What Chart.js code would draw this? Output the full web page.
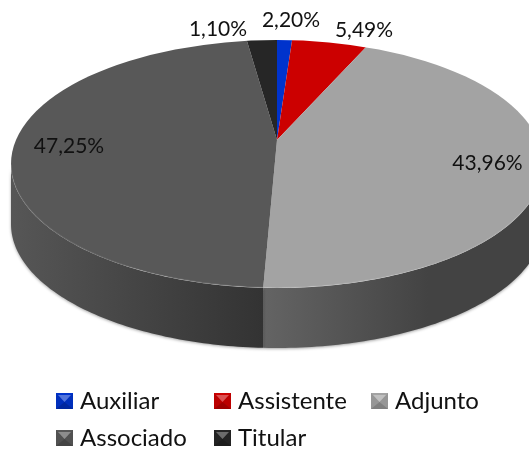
<!DOCTYPE html>
<html><head><meta charset="utf-8">
<style>html,body{margin:0;padding:0;background:#fff}canvas{display:block}</style>
<script src="https://cdn.jsdelivr.net/npm/chart.js@4"></script></head>
<body><canvas id="c" width="529" height="450"></canvas>
<script>
const categories = ["Auxiliar","Assistente","Adjunto","Associado","Titular"];
// Slice sizes as drawn in the picture (blue wedge is the smaller, dark wedge the larger)
const values = [1.10,5.49,43.96,47.25,2.20];
// Text printed beside each slice in the picture
const printedLabels = ["2,20%","5,49%","43,96%","47,25%","1,10%"];
const colors = ["#0033cc","#cc0000","#a3a3a3","#585858","#262626"];

const FONT = '21px Lato, sans-serif';
const top3d = {cx:277, cy:164, rx:266, ry:124, depth:60};
const stretch = {upper:[2.18*1.5,1.5], lower:[2.7*1.5,1.5]};
const labelAt = [[291,20],[364,30],[487.5,163],[69,146],[218,29]];
const legendAt = [[56,393],[214,393],[371,393],[56,430],[214,430]];

// where the slice edge at canvas angle a meets the rim of the top face, as an ellipse parameter
function rimParam(el,a){
  const s=Math.sin(a)>=0?stretch.lower:stretch.upper;
  const dx=s[0]*Math.cos(a), dy=s[1]*Math.sin(a);
  const px=(el.x-top3d.cx)/top3d.rx, py=(el.y-top3d.cy)/top3d.ry, qx=dx/top3d.rx, qy=dy/top3d.ry;
  const A=qx*qx+qy*qy, B=2*(px*qx+py*qy), C=px*px+py*py-1;
  const t=(-B+Math.sqrt(B*B-4*A*C))/(2*A);
  return Math.atan2(py+qy*t,px+qx*t);
}
function rim(t,off){return [top3d.cx+top3d.rx*Math.cos(t), top3d.cy+top3d.ry*Math.sin(t)+(off||0)];}
function topPath(ctx){ctx.beginPath();ctx.ellipse(top3d.cx,top3d.cy,top3d.rx,top3d.ry,0,0,Math.PI*2);}

const pie3d = {
  id:'pie3d',
  beforeDatasetDraw(chart,args){
    const ctx=chart.ctx, meta=args.meta, first=meta.data[0], cx=first.x, cy=first.y;
    // side wall: one band per slice seen from the front
    const edges=meta.data.map(el=>[rimParam(el,el.startAngle),rimParam(el,el.endAngle)]);
    meta.data.forEach((el,i)=>{
      let t1=edges[i][0], t2=edges[i][1];
      if(i===2){t1=0;}            // Adjunto runs from the right extreme to its end edge
      else if(i===3){t2=Math.PI;if(t1<0)t1+=Math.PI*2;} // Associado to the left extreme
      else return;
      if(t2<t1) return;
      const bx=rim(edges[2][1])[0];
      const g=ctx.createLinearGradient(i===2?bx:13,0,i===2?bx+165:bx,0);
      if(i===2){g.addColorStop(0,'#646464');g.addColorStop(1,'#434343');}
      else {g.addColorStop(0,'#565656');g.addColorStop(1,'#333333');}
      ctx.save();
      ctx.fillStyle=g;
      ctx.shadowColor='rgba(0,0,0,.35)';ctx.shadowBlur=3;ctx.shadowOffsetY=1;
      ctx.beginPath();
      const n=80;
      for(let k=0;k<=n;k++){const p=rim(t1+(t2-t1)*k/n);k?ctx.lineTo(p[0],p[1]):ctx.moveTo(p[0],p[1]);}
      for(let k=n;k>=0;k--){const p=rim(t1+(t2-t1)*k/n,top3d.depth);ctx.lineTo(p[0],p[1]);}
      ctx.closePath();ctx.fill();ctx.restore();
    });
    // top face: the library draws the arcs, stretched and trimmed to the ellipse
    [[0,cy,stretch.upper],[cy,450-cy,stretch.lower]].forEach(q=>{
      ctx.save();
      topPath(ctx);ctx.clip();
      ctx.beginPath();ctx.rect(0,q[0],529,q[1]);ctx.clip();
      ctx.translate(cx,cy);ctx.scale(q[2][0],q[2][1]);ctx.translate(-cx,-cy);
      meta.controller.draw();
      ctx.restore();
    });
    // soft pale rim on the front edge of the top face
    ctx.save();ctx.strokeStyle='rgba(255,255,255,.10)';ctx.lineWidth=1.2;ctx.beginPath();
    ctx.ellipse(top3d.cx,top3d.cy-.5,top3d.rx,top3d.ry,0,0,Math.PI);ctx.stroke();ctx.restore();
    return false;
  },
  afterDraw(chart){
    const ctx=chart.ctx;
    ctx.save();
    ctx.font=FONT;ctx.fillStyle='#111';ctx.textBaseline='middle';ctx.textAlign='center';
    printedLabels.forEach((t,i)=>ctx.fillText(t,labelAt[i][0],labelAt[i][1]));
    ctx.textAlign='left';ctx.textBaseline='alphabetic';ctx.font='24px Lato, sans-serif';
    categories.forEach((t,i)=>{
      const [x,y]=legendAt[i],w=17,h=16,mx=x+w/2,my=y+h/2;
      ctx.fillStyle=colors[i];ctx.fillRect(x,y,w,h);
      const tri=(pts,f)=>{ctx.fillStyle=f;ctx.beginPath();pts.forEach((p,k)=>k?ctx.lineTo(p[0],p[1]):ctx.moveTo(p[0],p[1]));ctx.closePath();ctx.fill();};
      tri([[x+2,y+2],[x+w-2,y+2],[mx,my+1]],'rgba(255,255,255,.32)');
      tri([[x,y+h],[x+w,y+h],[mx,my+1]],'rgba(0,0,0,.22)');
      tri([[x,y],[x,y+h],[mx,my+1]],'rgba(0,0,0,.08)');
      tri([[x+w,y],[x+w,y+h],[mx,my+1]],'rgba(0,0,0,.08)');
      ctx.fillStyle='#111';ctx.fillText(t,x+24,y+16);
    });
    ctx.restore();
  }
};
new Chart(document.getElementById('c'),{
  type:'pie',
  data:{labels:categories,datasets:[{data:values,backgroundColor:colors,borderWidth:0}]},
  options:{responsive:false,animation:false,
    layout:{padding:{left:137,right:112,top:0,bottom:170}},
    plugins:{legend:{display:false},tooltip:{enabled:false},title:{display:false}}},
  plugins:[pie3d]
});
</script></body></html>
